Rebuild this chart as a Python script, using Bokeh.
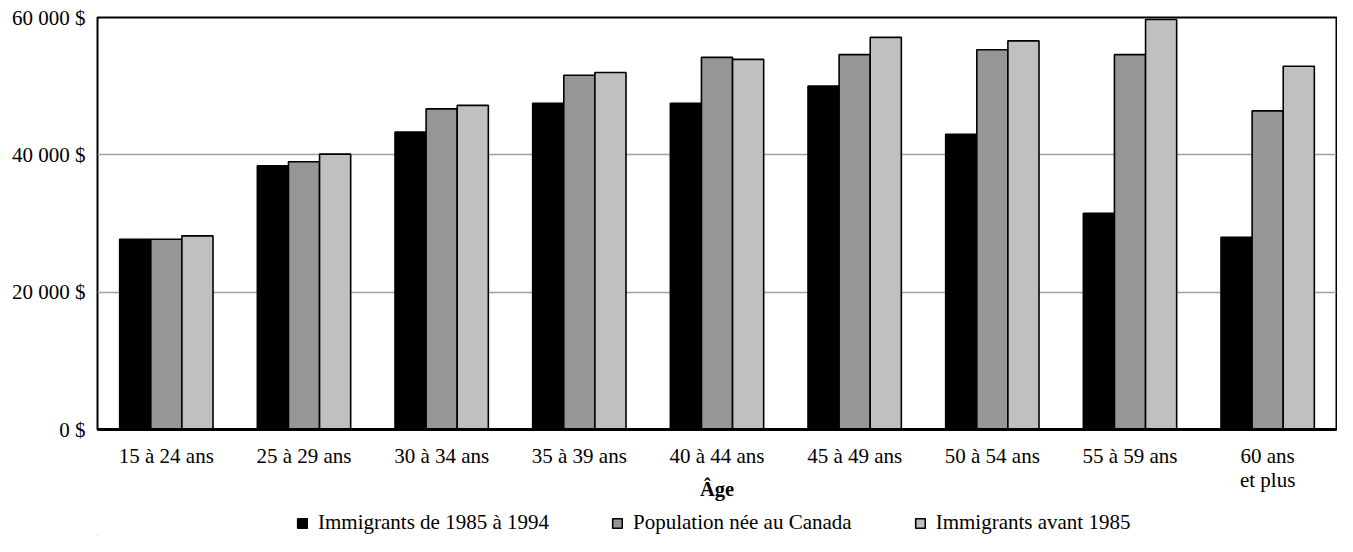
from bokeh.plotting import figure
from bokeh.layouts import column
from bokeh.models import (ColumnDataSource, FactorRange, Range1d, FixedTicker,
                          Legend, LegendItem)
from bokeh.transform import dodge
from bokeh.embed import file_html
from bokeh.resources import INLINE

categories = ["15 à 24 ans", "25 à 29 ans", "30 à 34 ans", "35 à 39 ans",
              "40 à 44 ans", "45 à 49 ans", "50 à 54 ans", "55 à 59 ans",
              "60 ans\net plus"]
immigrants_1985_1994 = [27700, 38400, 43300, 47500, 47500, 50000, 43000, 31500, 28000]
population_canada = [27700, 39000, 46700, 51600, 54200, 54600, 55300, 54600, 46400]
immigrants_avant_1985 = [28200, 40100, 47200, 52000, 53900, 57100, 56600, 59700, 52900]
series_labels = ["Immigrants de 1985 à 1994", "Population née au Canada",
                 "Immigrants avant 1985"]
y_ticks = [0, 20000, 40000, 60000]
y_tick_labels = ["0 $", "20 000 $", "40 000 $", "60 000 $"]

FONT = "Liberation Serif"
colors = ["#000000", "#969696", "#c0c0c0"]

src = ColumnDataSource(dict(cat=categories, a=immigrants_1985_1994,
                            b=population_canada, c=immigrants_avant_1985))

p = figure(width=1337, height=507, x_range=FactorRange(*categories, range_padding=0),
           y_range=Range1d(0, 60000), output_backend="svg", toolbar_location=None,
           min_border_left=97, min_border_top=17, min_border_right=1,
           min_border_bottom=78)

bw = 0.226
for off, col, key in zip([-bw, 0, bw], colors, ["a", "b", "c"]):
    p.vbar(x=dodge("cat", off, range=p.x_range), top=key, width=bw, source=src,
           fill_color=col, line_color="black", line_width=1.6)

p.outline_line_color = "black"
p.outline_line_width = 2
p.xgrid.grid_line_color = None
p.ygrid.grid_line_color = "#a0a0a0"
p.ygrid.grid_line_width = 1.5
p.ygrid.ticker = FixedTicker(ticks=y_ticks)

p.yaxis.ticker = FixedTicker(ticks=y_ticks)
p.yaxis.major_label_overrides = {t: l for t, l in zip(y_ticks, y_tick_labels)}
p.yaxis.axis_line_color = None
p.yaxis.major_tick_line_color = None
p.yaxis.minor_tick_line_color = None
p.yaxis.major_label_text_font = FONT
p.yaxis.major_label_text_font_size = "21px"
p.yaxis.major_label_text_color = "black"
p.yaxis.major_label_standoff = 6

p.xaxis.axis_line_color = "black"
p.xaxis.axis_line_width = 3
p.xaxis.major_tick_line_color = None
p.xaxis.minor_tick_line_color = None
p.xaxis.major_label_text_font = FONT
p.xaxis.major_label_text_font_size = "21px"
p.xaxis.major_label_text_line_height = 1.0
p.xaxis.major_label_text_color = "black"
p.xaxis.major_label_standoff = 8
p.xaxis.axis_label = "Âge"
p.xaxis.axis_label_text_font = FONT
p.xaxis.axis_label_text_font_size = "20.5px"
p.xaxis.axis_label_text_font_style = "bold"
p.xaxis.axis_label_text_color = "black"
p.xaxis.axis_label_standoff = -17

# Legend strip below the chart (proxy glyphs sit outside the strip's visible range)
lg = figure(width=1337, height=29, x_range=Range1d(0, 1), y_range=Range1d(0, 1),
            output_backend="svg", toolbar_location=None,
            min_border_left=97, min_border_right=1, min_border_top=0, min_border_bottom=0)
lg.axis.visible = False
lg.grid.visible = False
lg.outline_line_color = None
swatches = []
for col in colors:
    swatches.append(lg.vbar(x=[-5], top=[0], width=0.1, fill_color=col,
                            line_color="black", line_width=1.6))

legend = Legend(items=[LegendItem(label=l, renderers=[r]) for l, r in zip(series_labels, swatches)],
                location=(199, 1), orientation="horizontal",
                glyph_width=12, glyph_height=12, label_standoff=10, spacing=62,
                padding=0, margin=0, border_line_color=None,
                background_fill_alpha=0,
                label_text_font=FONT, label_text_font_size="21px",
                label_text_color="black")
lg.add_layout(legend, "center")

layout = column(p, lg, spacing=0)
open("out.html", "w").write(file_html(layout, INLINE))
